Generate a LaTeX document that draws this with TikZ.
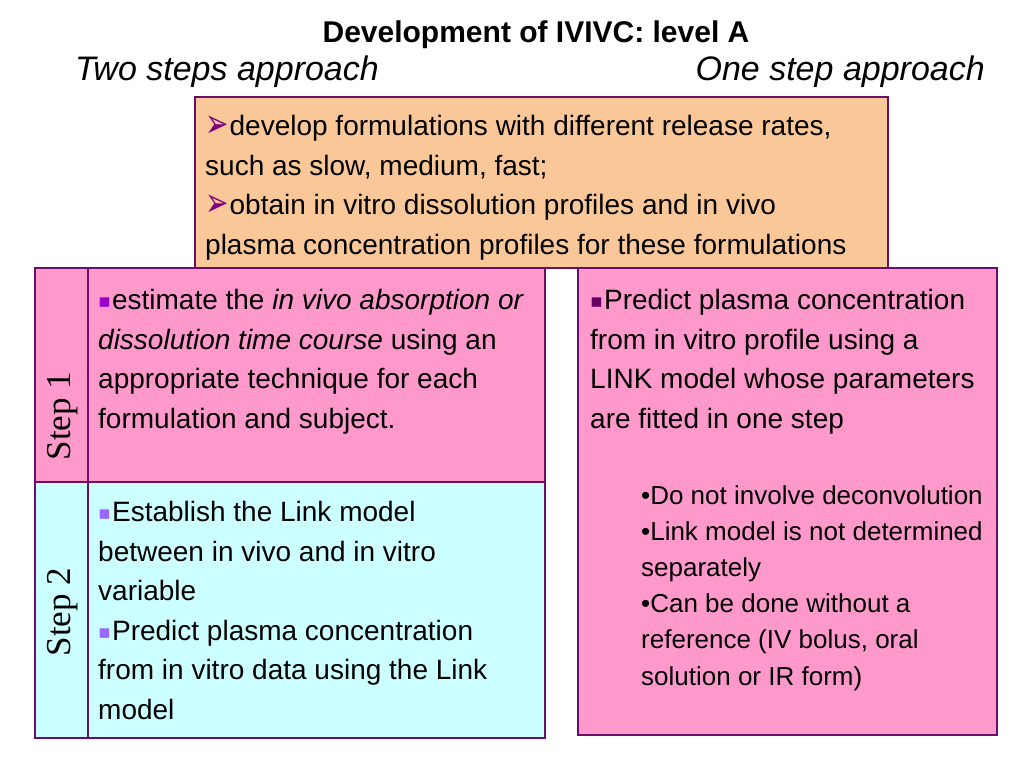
\documentclass[tikz,border=0pt]{standalone}
\usepackage{fontspec}
\usepackage{graphicx}
\setmainfont{Liberation Sans}
\newfontfamily\stepfont{Liberation Serif}
\newfontfamily\dvfont{DejaVu Sans}
\definecolor{bordc}{RGB}{105,15,105}
\definecolor{peach}{RGB}{250,200,152}
\definecolor{pinkf}{RGB}{255,153,204}
\definecolor{cyanf}{RGB}{204,255,255}
\definecolor{arrc}{RGB}{128,0,128}
\definecolor{sqa}{RGB}{153,0,204}
\definecolor{sqb}{RGB}{153,102,255}
\definecolor{sqc}{RGB}{102,0,102}
\newcommand\arrowb{\raisebox{-2pt}{\scalebox{1}[1.45]{\dvfont\fontsize{28}{39.6}\selectfont\color{arrc}➢}}\hspace{1pt}}
\newcommand\sqbul[1]{\raisebox{2pt}{\dvfont\fontsize{19}{39.6}\selectfont\color{#1}▪}\hspace{1pt}}
\begin{document}
\begin{tikzpicture}[x=1pt,y=-1pt,
  box/.style={draw=bordc,line width=2.6pt,anchor=north west,inner sep=0pt,outer sep=0pt},
  txt/.style={anchor=north west,inner sep=0pt,align=left,font=\fontsize{28}{39.6}\selectfont},
  smalltxt/.style={anchor=north west,inner sep=0pt,align=left,font=\fontsize{26}{36.2}\selectfont},
  steplbl/.style={rotate=90,inner sep=0pt,font=\stepfont\fontsize{35}{38}\selectfont}]
\useasboundingbox[fill=white] (0,0) rectangle (1024,768);

% title and headings
\node[anchor=base,inner sep=0pt,font=\fontsize{30}{34}\selectfont\bfseries] (title) at (536,42) {Development of IVIVC: level A};
\node[anchor=base west,inner sep=0pt,font=\fontsize{34}{38}\selectfont\itshape] (two) at (75,80) {Two steps approach};
\node[anchor=base east,inner sep=0pt,font=\fontsize{34}{38}\selectfont\itshape] (onehead) at (985,80) {One step approach};

% boxes
\node[box,fill=peach,minimum width=693pt,minimum height=171pt] (form) at (195,97) {};
\node[box,fill=pinkf,minimum width=53pt,minimum height=214pt] (s1l) at (35,268) {};
\node[box,fill=pinkf,minimum width=457pt,minimum height=214pt] (s1c) at (88,268) {};
\node[box,fill=cyanf,minimum width=53pt,minimum height=256pt] (s2l) at (35,482) {};
\node[box,fill=cyanf,minimum width=457pt,minimum height=256pt] (s2c) at (88,482) {};
\node[box,fill=pinkf,minimum width=419pt,minimum height=467pt] (one) at (578,268) {};

% step labels
\node[steplbl] (s1t) at (63,416) {Step 1};
\node[steplbl] (s2t) at (63,612) {Step 2};

% texts
\node[txt] (formtxt) at (205,115) {\arrowb develop formulations with different release rates,\\
such as slow, medium, fast;\\
\arrowb obtain in vitro dissolution profiles and in vivo\\
plasma concentration profiles for these formulations};

\node[txt] (s1txt) at (98,289) {\sqbul{sqa}estimate the \textit{in vivo absorption or}\\
\textit{dissolution time course} using an\\
appropriate technique for each\\
formulation and subject.};

\node[txt] (s2txt) at (98,501) {\sqbul{sqb}Establish the Link model\\
between in vivo and in vitro\\
variable\\
\sqbul{sqb}Predict plasma concentration\\
from in vitro data using the Link\\
model};

\node[txt] (onetxt) at (590,289) {\sqbul{sqc}Predict plasma concentration\\
from in vitro profile using a\\
LINK model whose parameters\\
are fitted in one step};

\node[smalltxt] (onelist) at (641,485) {•Do not involve deconvolution\\
•Link model is not determined\\
separately\\
•Can be done without a\\
reference (IV bolus, oral\\
solution or IR form)};
\end{tikzpicture}
\end{document}
